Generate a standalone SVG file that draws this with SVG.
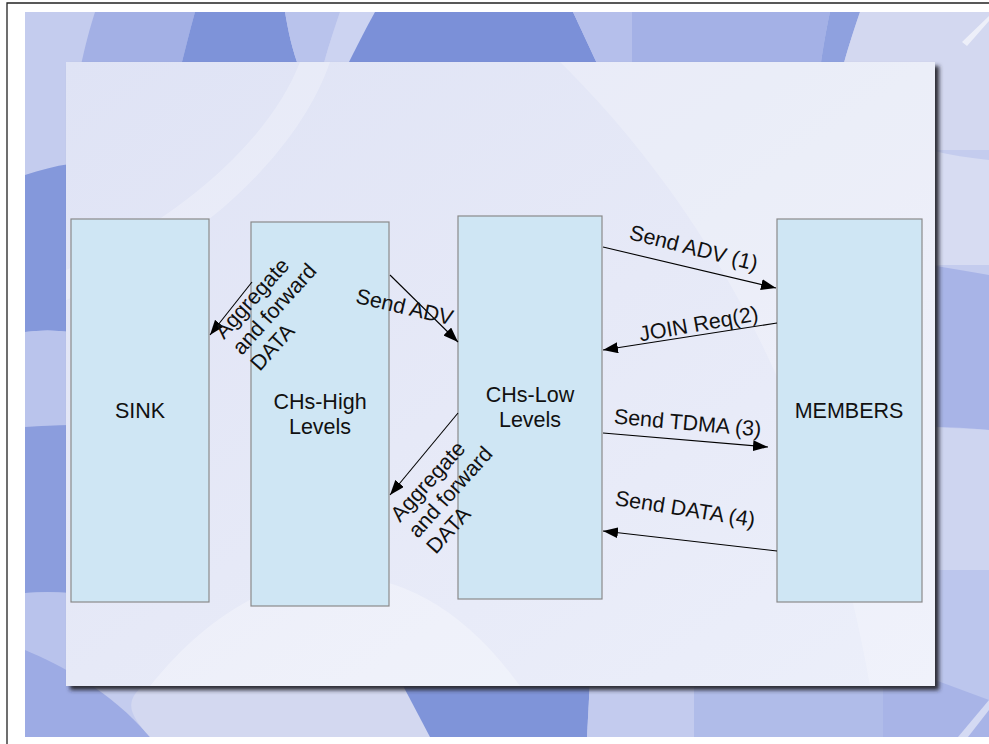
<svg xmlns="http://www.w3.org/2000/svg" width="989" height="744" viewBox="0 0 989 744">
<defs>
<style>
.node rect{fill:#cfe6f4;stroke:#8a8a8a;stroke-width:1.2}
.node text,.lbl{font-family:"Liberation Sans",Arial,sans-serif;font-size:21.5px;fill:#111}
.node text{text-anchor:middle}
.conn line{stroke:#000;stroke-width:1.1;marker-end:url(#ah)}
</style>
<marker id="ah" markerUnits="userSpaceOnUse" markerWidth="15" markerHeight="11" refX="15" refY="5.5" orient="auto">
<path d="M0,0 L15,5.5 L0,11 Z" fill="#000"/>
</marker>
<linearGradient id="pg" x1="0" y1="0" x2="1" y2="1">
<stop offset="0" stop-color="#dfe3f5"/>
<stop offset="0.5" stop-color="#e6e9f7"/>
<stop offset="1" stop-color="#eceffa"/>
</linearGradient>
<filter id="blur" x="-5%" y="-5%" width="110%" height="110%"><feGaussianBlur stdDeviation="2"/></filter>
</defs>
<rect x="0" y="0" width="989" height="744" fill="#ffffff"/>
<g id="background">
<rect x="25" y="12" width="964" height="725" fill="#c4ccee"/>
<path d="M95,12 L195,12 C190,30 185,50 180,70 L80,70 C85,45 90,28 95,12 Z" fill="#a3b0e5"/>
<path d="M195,12 L285,12 C288,30 292,50 300,70 L180,70 C185,50 190,30 195,12 Z" fill="#7e93d9"/>
<path d="M285,12 L340,12 C332,35 326,55 322,70 L300,70 C292,50 288,30 285,12 Z" fill="#b9c3ec"/>
<path d="M340,12 L375,12 C365,35 355,55 345,70 L322,70 C326,55 332,35 340,12 Z" fill="#ccd3f1"/>
<path d="M375,12 L573,12 L600,70 L345,70 C355,50 365,30 375,12 Z" fill="#7b90d8"/>
<path d="M573,12 L632,12 L632,70 L600,70 Z" fill="#b5bfeb"/>
<path d="M632,12 L830,12 C825,35 822,55 820,70 L632,70 Z" fill="#a4b1e6"/>
<path d="M830,12 L860,12 C852,35 846,55 842,70 L820,70 C822,55 825,35 830,12 Z" fill="#8fa1df"/>
<path d="M860,12 L989,12 L989,150 L930,150 L930,70 L842,70 C846,55 852,35 860,12 Z" fill="#d3d8f0"/>
<path d="M962,42 L989,16 L989,21 L967,46 Z" fill="#ffffff" opacity="0.6"/>
<path d="M25,175 C40,170 55,166 70,164 L70,332 C55,330 40,330 25,332 Z" fill="#8498db"/>
<path d="M25,332 C40,330 55,330 70,332 L70,425 C55,425 40,426 25,427 Z" fill="#bac4ec"/>
<path d="M25,427 C40,426 55,425 70,425 L70,593 C55,592 40,592 25,593 Z" fill="#8b9ddd"/>
<path d="M25,593 C40,592 55,592 70,593 L70,690 L25,690 Z" fill="#b9c3ec"/>
<path d="M25,650 C60,665 110,690 150,737 L25,737 Z" fill="#9dabe4"/>
<path d="M930,150 C950,155 970,158 989,160 L989,265 L930,265 Z" fill="#d7dcf2"/>
<path d="M930,265 C950,268 970,272 989,275 L989,430 C970,428 950,427 930,427 Z" fill="#a8b4e7"/>
<path d="M930,427 L989,430 L989,570 L930,570 Z" fill="#ced5f0"/>
<path d="M930,570 L989,570 L989,737 L930,737 Z" fill="#bcc6ed"/>
<path d="M151,680 L404,680 L430,737 L150,737 C130,715 120,700 151,680 Z" fill="#d3d8f0"/>
<path d="M400,680 L590,680 L587,737 L430,737 Z" fill="#7f94d9"/>
<path d="M590,680 L694,680 L694,737 L587,737 Z" fill="#c3cbee"/>
<path d="M694,680 L883,680 L883,737 L694,737 Z" fill="#b0bce9"/>
<path d="M883,680 L935,680 L989,700 L989,737 L883,737 Z" fill="#a8b4e7"/>
<path d="M958,737 L989,700 L989,710 L968,737 Z" fill="#ffffff" opacity="0.5"/>
</g>
<g id="panel">
<rect x="70" y="66" width="869" height="624" fill="#2a2a33" filter="url(#blur)"/>
<rect x="66" y="62" width="869" height="624" fill="url(#pg)"/>
<path d="M330,62 C300,150 200,250 66,300 L66,270 C180,220 270,140 300,62 Z" fill="#ffffff" opacity="0.25"/>
<path d="M560,62 C700,200 820,400 870,686 L935,686 L935,62 Z" fill="#ffffff" opacity="0.22"/>
<path d="M150,686 C250,560 400,520 520,686 Z" fill="#ffffff" opacity="0.3"/>
</g>
<g id="border">
<path d="M7,744 L7,3 L989,3" fill="none" stroke="#222" stroke-width="1.3"/>
</g>
<g id="sink" class="node">
<rect x="71" y="219" width="138" height="383"/>
<text x="140" y="418">SINK</text>
</g>
<g id="chs-high" class="node">
<rect x="251" y="222" width="138" height="384"/>
<text x="320" y="409">CHs-High</text>
<text x="320" y="434">Levels</text>
</g>
<g id="chs-low" class="node">
<rect x="458" y="216" width="144" height="383"/>
<text x="530" y="402">CHs-Low</text>
<text x="530" y="427">Levels</text>
</g>
<g id="members" class="node">
<rect x="777" y="219" width="145" height="383"/>
<text x="849" y="418">MEMBERS</text>
</g>
<g id="connectors" class="conn">
<line x1="252" y1="282" x2="210" y2="335"/>
<line x1="390" y1="275" x2="458" y2="342"/>
<line x1="458" y1="413" x2="390" y2="495"/>
<line x1="603" y1="247" x2="776" y2="288"/>
<line x1="777" y1="323" x2="603" y2="350"/>
<line x1="603" y1="433" x2="768" y2="447"/>
<line x1="777" y1="551" x2="603" y2="531"/>
</g>
<g id="labels">
<text class="lbl" transform="rotate(-48 224 340)"><tspan x="224" y="340">Aggregate</tspan><tspan x="224" dy="24">and forward</tspan><tspan x="224" dy="24">DATA</tspan></text>
<text class="lbl" transform="rotate(-48 400 523)"><tspan x="400" y="523">Aggregate</tspan><tspan x="400" dy="24">and forward</tspan><tspan x="400" dy="24">DATA</tspan></text>
<text class="lbl" text-anchor="middle" transform="rotate(13 403 314)" x="403" y="314">Send ADV</text>
<text class="lbl" text-anchor="middle" transform="rotate(14 692 255)" x="692" y="255">Send ADV (1)</text>
<text class="lbl" text-anchor="middle" transform="rotate(-10 700 331)" x="700" y="331">JOIN Req(2)</text>
<text class="lbl" text-anchor="middle" transform="rotate(5 687 430)" x="687" y="430">Send TDMA (3)</text>
<text class="lbl" text-anchor="middle" transform="rotate(9 684 516)" x="684" y="516">Send DATA (4)</text>
</g>
</svg>
